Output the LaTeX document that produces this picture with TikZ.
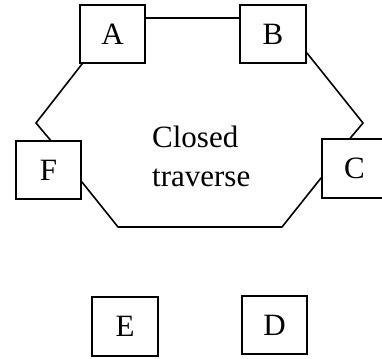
\documentclass[tikz,border=0pt]{standalone}
\usepackage{fontspec}
\setmainfont{Liberation Serif}
\newcommand\diagfont{\fontsize{31pt}{39pt}\selectfont}
\begin{document}
\begin{tikzpicture}[x=1pt,y=1pt,
  stn/.style={draw,line width=1.6pt,minimum width=65pt,minimum height=58pt,inner sep=0pt,font=\diagfont},
  leg/.style={line width=1.6pt,line join=miter}]
\useasboundingbox (0,0) rectangle (382,-358);
\node[stn] (A) at (112.5,-34) {A};
\node[stn,minimum width=66pt] (B) at (273,-34) {B};
\node[stn] (F) at (48.5,-170) {F};
\node[stn,minimum height=59pt] (C) at (354.5,-168.5) {C};
\node[stn,minimum width=66pt,minimum height=59pt] (E) at (125,-326.5) {E};
\node[stn] (D) at (274.5,-325) {D};
\node[anchor=base west,align=left,inner sep=0pt,font=\diagfont] (T) at (152,-186) {Closed\\traverse};
\coordinate (pAF) at (36,-123);
\coordinate (pBC) at (363,-123);
\coordinate (pF1) at (118,-227);
\coordinate (pC1) at (282,-227);
\draw[leg] ([yshift=-14pt]A.north east) -- ([yshift=-14pt]B.north west);
\draw[leg] ([xshift=3pt]A.south west) -- (pAF) -- ([xshift=2pt]F.north);
\draw[leg] ([yshift=11pt]B.south east) -- (pBC) -- ([xshift=29pt]C.north west);
\draw[leg] ([yshift=18pt]F.south east) -- (pF1) -- (pC1) -- ([yshift=21pt]C.south west);
\end{tikzpicture}
\end{document}
